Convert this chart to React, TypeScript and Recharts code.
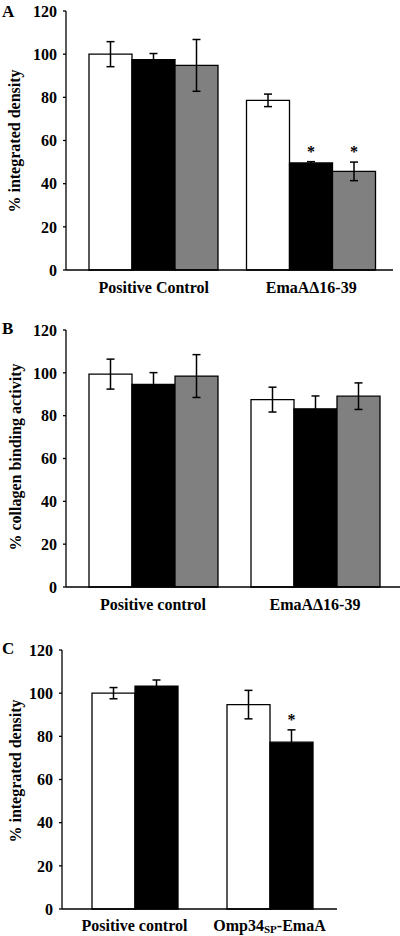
import React from 'react';
import { BarChart, Bar, XAxis, YAxis, ErrorBar, LabelList } from 'recharts';

const FONT = "'Liberation Serif', 'Times New Roman', serif";

// Panel A
const A_CATEGORIES = ['Positive Control', 'EmaAΔ16-39'];
const A_WHITE = [100, 78.6];
const A_WHITE_ERR = [5.8, 2.9];
const A_BLACK = [97.5, 49.6];
const A_BLACK_ERR = [2.8, 0.6];
const A_GRAY = [94.8, 45.7];
const A_GRAY_ERR = [12, 4.3];
const A_BLACK_STAR = [false, true];
const A_GRAY_STAR = [false, true];

// Panel B
const B_CATEGORIES = ['Positive control', 'EmaAΔ16-39'];
const B_WHITE = [99.4, 87.5];
const B_WHITE_ERR = [7, 5.8];
const B_BLACK = [94.6, 83.2];
const B_BLACK_ERR = [5.5, 6];
const B_GRAY = [98.5, 89.1];
const B_GRAY_ERR = [10, 6.2];
const B_BLACK_STAR = [false, false];
const B_GRAY_STAR = [false, false];

// Panel C
const C_CATEGORIES = ['Positive control', 'Omp34SP-EmaA'];
const C_TICK_PARTS: Record<string, string[]> = {
  'Positive control': ['Positive control'],
  'Omp34SP-EmaA': ['Omp34', 'SP', '-EmaA'],
};
const C_WHITE = [100, 94.7];
const C_WHITE_ERR = [2.6, 6.6];
const C_BLACK = [103.3, 77.3];
const C_BLACK_ERR = [2.8, 5.7];
const C_BLACK_STAR = [false, true];

const Y_TICKS = [0, 20, 40, 60, 80, 100, 120];

const Y_LABEL_A = '% integrated density';
const Y_LABEL_B = '% collagen binding activity';
const Y_LABEL_C = '% integrated density';

const rowsA = A_CATEGORIES.map((cat, i) => ({
  cat, w: A_WHITE[i], wErr: A_WHITE_ERR[i], k: A_BLACK[i], kErr: A_BLACK_ERR[i],
  g: A_GRAY[i], gErr: A_GRAY_ERR[i], kStar: A_BLACK_STAR[i], gStar: A_GRAY_STAR[i],
}));
const rowsB = B_CATEGORIES.map((cat, i) => ({
  cat, w: B_WHITE[i], wErr: B_WHITE_ERR[i], k: B_BLACK[i], kErr: B_BLACK_ERR[i],
  g: B_GRAY[i], gErr: B_GRAY_ERR[i], kStar: B_BLACK_STAR[i], gStar: B_GRAY_STAR[i],
}));
const rowsC = C_CATEGORIES.map((cat, i) => ({
  cat, w: C_WHITE[i], wErr: C_WHITE_ERR[i], k: C_BLACK[i], kErr: C_BLACK_ERR[i], kStar: C_BLACK_STAR[i],
}));

const makeStar = (rows: any[], errKey: string, starKey: string) => (props: any) => {
  const vb = props.viewBox && props.viewBox.x !== undefined ? props.viewBox : props;
  const { x, y, width, height } = vb;
  const index = props.index;
  const row = rows[index];
  if (!row || !row[starKey]) return null;
  const val = row[errKey.replace('Err', '')];
  const h = Math.abs(height);
  const errPx = val ? (row[errKey] * h) / val : 0;
  return (
    <text x={x + width / 2} y={y - errPx - 5} textAnchor="middle" fontSize={16}
      fontWeight="bold" fontFamily={FONT} fill="#000">*</text>
  );
};

const XTick = (props: any) => {
  const { x, y, payload } = props;
  const parts = C_TICK_PARTS[payload.value] || [payload.value];
  return (
    <text x={x} y={y} dy="0.71em" textAnchor="middle" fontSize={16} fontWeight="bold"
      fontFamily={FONT} fill="#000">
      {parts.length === 3 ? (
        <>
          <tspan>{parts[0]}</tspan>
          <tspan fontSize={11} dy={2}>{parts[1]}</tspan>
          <tspan dy={-2}>{parts[2]}</tspan>
        </>
      ) : (
        parts[0]
      )}
    </text>
  );
};

const yTick = { fontSize: 16, fontWeight: 'bold', fill: '#000', fontFamily: FONT };
const axisLine = { stroke: '#000', strokeWidth: 1.3 };

const BAR = 43;

function Panel({ rows, top, height, marginTop, marginRight, yWidth, padLeft, padRight, gray, xMargin, xHeight }: any) {
  return (
    <div style={{ position: 'absolute', left: 0, top }}>
      <BarChart width={400} height={height} data={rows} barGap={0} barSize={BAR}
        margin={{ top: marginTop, right: marginRight, left: 0, bottom: 0 }}>
        <XAxis dataKey="cat" tickLine={false} tickSize={0} tickMargin={xMargin} axisLine={axisLine}
          padding={{ left: padLeft, right: padRight }} height={xHeight} tick={<XTick />} interval={0} />
        <YAxis domain={[0, 120]} ticks={Y_TICKS} interval={0} width={yWidth} tick={yTick}
          tickSize={3} tickMargin={6} axisLine={axisLine} tickLine={{ stroke: '#000', strokeWidth: 1.3 }} />
        <Bar dataKey="w" fill="#ffffff" stroke="#000" strokeWidth={1.3} isAnimationActive={false}>
          <ErrorBar dataKey="wErr" width={4} stroke="#000" strokeWidth={1.5} direction="y" />
        </Bar>
        <Bar dataKey="k" fill="#000000" stroke="#000" strokeWidth={1.3} isAnimationActive={false}>
          <ErrorBar dataKey="kErr" width={4} stroke="#000" strokeWidth={1.5} direction="y" />
          <LabelList dataKey="k" content={makeStar(rows, 'kErr', 'kStar')} />
        </Bar>
        {gray && (
          <Bar dataKey="g" fill="#808080" stroke="#000" strokeWidth={1.3} isAnimationActive={false}>
            <ErrorBar dataKey="gErr" width={4} stroke="#000" strokeWidth={1.5} direction="y" />
            <LabelList dataKey="g" content={makeStar(rows, 'gErr', 'gStar')} />
          </Bar>
        )}
      </BarChart>
    </div>
  );
}

const txt = { fontSize: 16, fontWeight: 'bold' as const, fontFamily: FONT, fill: '#000' };

export default function App() {
  return (
    <div style={{ position: 'absolute', left: 0, top: 0, width: 400, height: 936, background: '#fff', overflow: 'hidden' }}>
      <Panel rows={rowsA} top={0} height={296} marginTop={11} marginRight={7} yWidth={66} padLeft={9} padRight={3} gray xMargin={12} xHeight={26} />
      <Panel rows={rowsB} top={310} height={303} marginTop={20} marginRight={0} yWidth={66} padLeft={6} padRight={4} gray xMargin={12} xHeight={26} />
      <Panel rows={rowsC} top={630} height={306} marginTop={20} marginRight={63} yWidth={62} padLeft={5} padRight={0} gray={false} xMargin={11} xHeight={27} />
      <svg width={400} height={936} style={{ position: 'absolute', left: 0, top: 0, pointerEvents: 'none' }}>
        <text x={2} y={17} {...txt} fontSize={17}>A</text>
        <text x={2} y={334} {...txt} fontSize={17}>B</text>
        <text x={2} y={654} {...txt} fontSize={17}>C</text>
        <text x={14} y={141} transform="rotate(-90 14 141)" textAnchor="middle" dominantBaseline="central" {...txt}>{Y_LABEL_A}</text>
        <text x={15} y={457} transform="rotate(-90 15 457)" textAnchor="middle" dominantBaseline="central" {...txt}>{Y_LABEL_B}</text>
        <text x={15} y={771} transform="rotate(-90 15 771)" textAnchor="middle" dominantBaseline="central" {...txt}>{Y_LABEL_C}</text>
      </svg>
    </div>
  );
}
